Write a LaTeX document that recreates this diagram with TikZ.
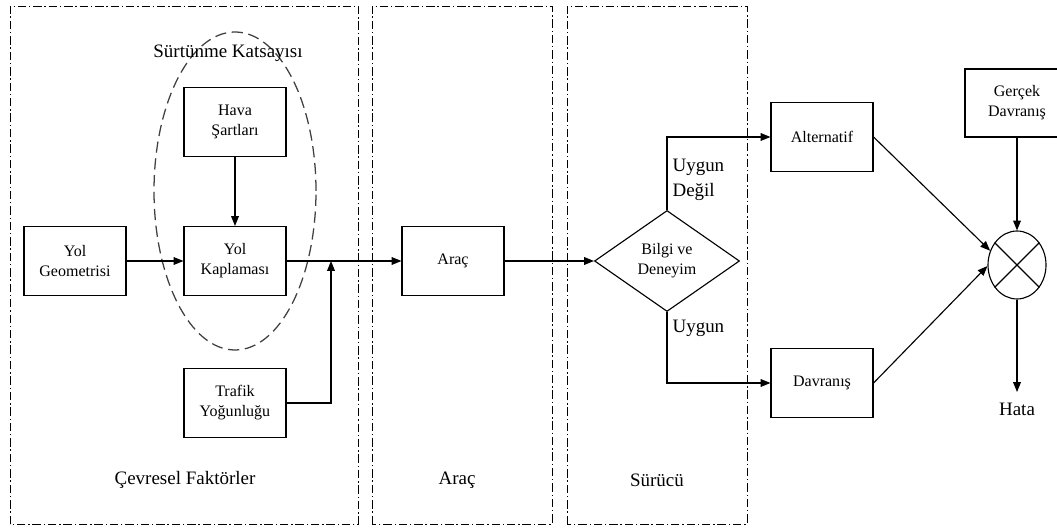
\documentclass[tikz,border=0pt]{standalone}
\usepackage{fontspec}
\setmainfont{Liberation Serif}
\usetikzlibrary{arrows.meta,shapes.geometric}
\begin{document}
\begin{tikzpicture}[>={Triangle[length=7pt,width=5.5pt]},line width=0.8pt,
box/.style={draw,minimum width=2.55cm,minimum height=1.725cm,align=center,font=\fontsize{11.4}{14.2}\selectfont},
title/.style={font=\fontsize{13.5}{18}\selectfont,align=left},
panel/.style={line width=0.6pt,dash pattern=on 6pt off 2pt on 1pt off 2pt}]
\useasboundingbox (0,0) rectangle (26.425,13.2);
\draw[panel] (0.25,0.1) rectangle (8.95,13.05);
\draw[panel] (9.3,0.1) rectangle (13.8,13.05);
\draw[panel] (14.175,0.1) rectangle (18.675,13.05);
\draw[black!75,line width=0.9pt,dash pattern=on 8pt off 4pt] (5.875,8.425) ellipse (2.025 and 3.975);
\node (surtunme) at (5.7,11.875) [title] {Sürtünme Katsayısı};
\node (cevre) at (4.625,1.2) [title] {Çevresel Faktörler};
\node (aracpanel) at (11.425,1.2) [title] {Araç};
\node (surucu) at (16.425,1.2) [title] {Sürücü};
\node (geo) at (1.875,6.675) [box] {Yol\\Geometrisi};
\node (kap) at (5.875,6.675) [box] {Yol\\Kaplaması};
\node (hava) at (5.875,10.16) [box] {Hava\\Şartları};
\node (trafik) at (5.875,3.125) [box] {Trafik\\Yoğunluğu};
\node (arac) at (11.325,6.675) [box] {Araç};
\node (bilgi) at (16.675,6.675) [diamond,draw,minimum width=3.625cm,minimum height=2.525cm,inner sep=0pt,align=center,font=\fontsize{11.4}{14.2}\selectfont] {Bilgi ve\\Deneyim};
\node (degil) at (16.8,8.7) [title,anchor=west,inner sep=0pt] {Uygun\\Değil};
\node (uygun) at (16.8,5.0) [title,anchor=west,inner sep=0pt] {Uygun};
\node (alt) at (20.55,9.775) [box] {Alternatif};
\node (dav) at (20.55,3.625) [box] {Davranış};
\node (gercek) at (25.425,10.625) [box,minimum width=2.6cm,minimum height=1.7cm] {Gerçek\\Davranış};
\node (sum) at (25.425,6.575) [ellipse,draw,minimum width=1.45cm,minimum height=1.7cm,inner sep=0pt] {};
\node (hata) at (25.425,3.4) [title,anchor=north,inner sep=7.5pt] {Hata};
\coordinate (junc) at (8.275,6.675);
\draw (sum.45) -- (sum.225) (sum.135) -- (sum.315);
\draw[->] (geo) -- (kap);
\draw[->] (hava) -- (kap);
\draw[->] (trafik.east) -| (junc);
\draw[->] (kap) -- (arac);
\draw[->] (arac) -- (bilgi);
\draw[->] (bilgi.north) |- (alt);
\draw[->] (bilgi.south) |- (dav);
\draw[->] (alt.east) -- (sum.152);
\draw[->] (dav.east) -- (sum.182);
\draw[->] (gercek.south) -- (sum.north);
\draw[->] (sum.south) -- (hata);
\end{tikzpicture}
\end{document}
